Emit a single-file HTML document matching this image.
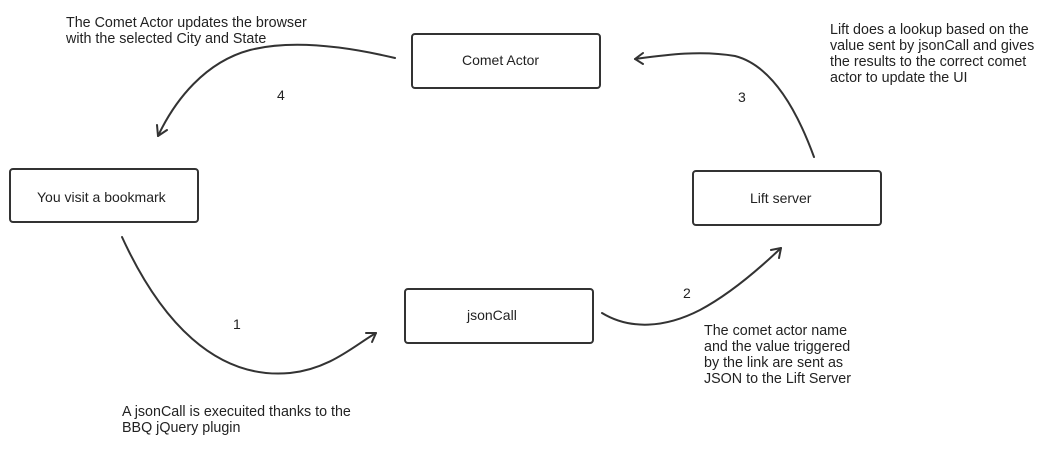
<!DOCTYPE html>
<html><head><meta charset="utf-8"><style>
html,body{margin:0;padding:0;background:#fff;}
svg text{font-family:"Liberation Sans",Arial,sans-serif;font-size:14px;fill:#222;}
svg text.a{font-size:14.3px;}
</style></head><body>
<svg width="1051" height="449" viewBox="0 0 1051 449" xmlns="http://www.w3.org/2000/svg">
<g fill="none" stroke="#333" stroke-width="2">
<rect x="412" y="34" width="188" height="54" rx="3"/>
<rect x="10" y="169" width="188" height="53" rx="3"/>
<rect x="693" y="171" width="188" height="54" rx="3"/>
<rect x="405" y="289" width="188" height="54" rx="3"/>
</g>
<g fill="none" stroke="#333" stroke-width="2" stroke-linecap="round" stroke-linejoin="round">
<path d="M122 237 C160 320 215 380 290 373 C330 369 355 345 376 333"/>
<path d="M366 333 L376 333 L372 342"/>
<path d="M602 313 C630 330 665 328 700 310 C730 294 760 268 781 248"/>
<path d="M771 250 L781 248 L779 258"/>
<path d="M814 157 C795 105 770 65 735 56 C700 50 665 55 635 59"/>
<path d="M643 53 L635 59 L643 64"/>
<path d="M395 58 C340 45 290 40 250 50 C205 62 175 100 158 136"/>
<path d="M157 125 L158 136 L167 130"/>
</g>
<text x="462" y="65">Comet Actor</text>
<text x="37" y="202">You visit a bookmark</text>
<text x="750" y="203">Lift server</text>
<text x="467" y="320">jsonCall</text>
<text x="233" y="329">1</text>
<text x="683" y="298">2</text>
<text x="738" y="102">3</text>
<text x="277" y="100">4</text>
<text class="a" x="66" y="27">The Comet Actor updates the browser</text>
<text class="a" x="66" y="43">with the selected City and State</text>
<text class="a" x="830" y="34">Lift does a lookup based on the</text>
<text class="a" x="830" y="50">value sent by jsonCall and gives</text>
<text class="a" x="830" y="66">the results to the correct comet</text>
<text class="a" x="830" y="82">actor to update the UI</text>
<text class="a" x="704" y="335">The comet actor name</text>
<text class="a" x="704" y="351">and the value triggered</text>
<text class="a" x="704" y="367">by the link are sent as</text>
<text class="a" x="704" y="383">JSON to the Lift Server</text>
<text class="a" x="122" y="416">A jsonCall is execuited thanks to the</text>
<text class="a" x="122" y="432">BBQ jQuery plugin</text>
</svg>
</body></html>
